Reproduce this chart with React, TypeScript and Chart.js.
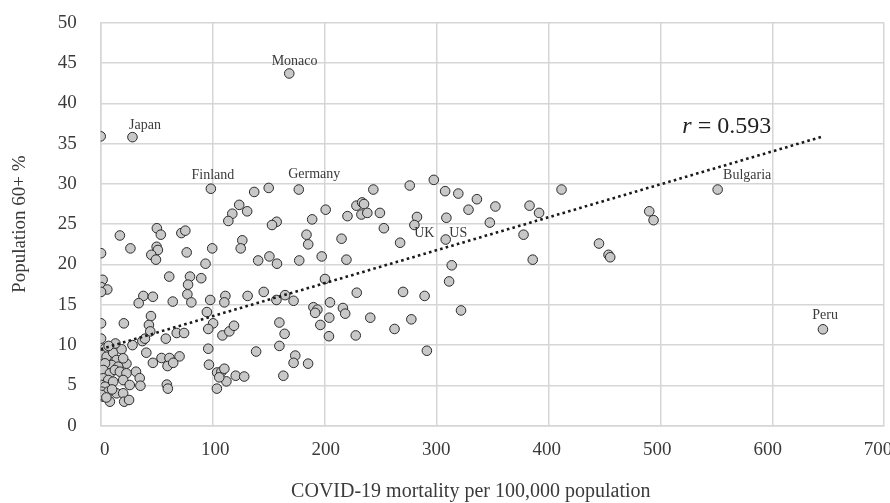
import React, { useEffect, useRef } from "react";
import { Chart, registerables } from "chart.js";
Chart.register(...registerables);

const FONT = '"Liberation Serif", "Times New Roman", serif';

// COVID-19 mortality per 100,000 population (x)
const mortality = [
  0, 28, 166.2, 97.1, 135.3, 148.1, 122.1, 129.1, 116.0, 112.5,
  155.1, 151.0, 16.9, 49.5, 53.0, 71.1, 74.6, 124.8, 123.4, 26.2,
  0.3, 49.3, 50.4, 44.6, 48.7, 75.8, 98.3, 92.4, 138.8, 148.7,
  155.4, 1.7, 0.3, 5.8, 0.3, 60.4, 78.7, 77.0, 88.6, 76.4,
  37.6, 46.0, 109.9, 129.5, 143.7, 33.5, 79.9, 63.5, 96.5, 109.0,
  154.9, 162.5, 0.3, 20.4, 44.3, 42.5, 43.7, 36.7, 39.0, 0.3,
  28.0, 57.4, 67.0, 73.5, 93.6, 99.1, 94.8, 107.3, 113.4, 117.5,
  157.5, 162.1, 94.8, 137.0, 157.5, 40.2, 46.0, 53.6, 60.6, 69.5,
  58.9, 63.9, 95.4, 102.6, 106.4, 109.0, 110.8, 119.0, 126.5, 102.4,
  161.0, 31.1, 34.4, 35.0, 58.3, 59.2, 22.7, 104.5,
  3.8, 0.9, 5.2, 11.0, 18.4, 14.0, 19.8, 9.6, 15.4, 3.8,
  2.3, 8.1, 12.5, 16.9, 22.7, 2.3, 6.7, 0.5, 3.8, 11.0,
  19.8, 25.6, 0.9, 6.7, 14.0, 19.8, 8.1, 2.3, 20.7, 25.0,
  0.9, 10, 5, 13, 7,
  174.6, 240.3, 272.4, 293.6, 303.6, 315.2, 331.6, 324.2, 347.9, 343,
  304.7, 198.3, 186.4, 217.5, 225.4, 230.4, 232.1, 229.8, 235, 246.1,
  249.6, 278.8, 276.5, 181.4, 182.9, 212.3, 263.9, 304.1, 309.4, 307.1,
  175, 194.8, 216.6, 197.7, 225.7, 266.5, 285.5,
  170, 187.5, 191, 189, 202.1, 213.5, 215.5, 201.5, 237.6, 273.8,
  259, 224.8, 201.2, 193.6, 317.6, 287.5, 171.5, 170, 182.8,
  378, 386.4, 406.2, 372.7, 380.8, 439.2, 447.6, 449.1, 483.5, 487.3, 543.8, 636.6,
];

// Population 60+ % (y)
const population60 = [
  35.9, 35.8, 43.7, 29.4, 29.0, 29.5, 27.4, 26.6, 26.3, 25.4,
  25.3, 24.9, 23.6, 24.5, 23.7, 23.9, 24.2, 23.0, 22.0, 22.0,
  21.4, 22.2, 21.8, 21.2, 20.6, 21.5, 22.0, 20.1, 20.5, 21.0,
  20.1, 18.1, 17.2, 16.9, 16.6, 18.5, 18.5, 17.5, 18.3, 16.3,
  16.1, 16.0, 16.1, 16.1, 16.6, 15.2, 15.3, 15.4, 15.6, 15.3,
  15.6, 16.2, 12.7, 12.7, 13.6, 12.5, 11.7, 10.5, 10.8, 10.8,
  10.0, 10.8, 11.5, 11.5, 14.1, 12.7, 12.0, 11.2, 11.7, 12.4,
  12.8, 11.4, 9.55, 9.2, 9.9, 9.06, 7.8, 8.4, 8.4, 8.6,
  7.4, 7.8, 7.57, 6.6, 6.7, 7.07, 5.5, 6.2, 6.1, 4.6,
  6.2, 6.7, 5.9, 4.96, 5.1, 4.6, 7.7, 6.0,
  9.6, 8.77, 8.56, 9.06, 9.48, 8.15, 8.36, 7.53, 7.32, 7.74,
  6.91, 6.5, 6.91, 6.7, 6.5, 5.88, 5.67, 5.05, 4.84, 5.46,
  5.67, 5.05, 4.22, 4.22, 4.02, 4.02, 2.98, 3.6, 2.98, 3.19,
  3.81, 4.5, 3.5, 10.2, 9.9,
  29.3, 29.3, 29.8, 30.5, 29.1, 28.8, 28.1, 26.8, 27.2, 25.2,
  25.8, 26.8, 25.6, 26.0, 27.3, 27.7, 27.5, 26.2, 26.4, 26.4,
  24.5, 25.9, 24.9, 23.7, 22.5, 23.2, 22.7, 23.1, 19.9, 17.9,
  20.5, 21.0, 20.6, 18.2, 16.5, 16.6, 16.1,
  15.5, 14.7, 14.4, 14.0, 15.3, 14.6, 13.9, 13.4, 13.4, 13.2,
  12.0, 11.2, 11.1, 12.5, 14.3, 9.3, 8.7, 7.8, 7.7,
  27.3, 26.4, 29.3, 23.7, 20.6, 22.6, 21.2, 20.9, 26.6, 25.5, 29.3, 11.96,
];

// Trend line
const trendX = [0, 637];
const trendY = [9.5, 35.9];

// Country labels (data-space anchor of each text)
const labelNames = ["Monaco", "Japan", "Finland", "Germany", "UK", "US", "Bulgaria", "Peru"];
const labelX = [170.9, 39.0, 98.9, 188.2, 285.2, 315.2, 569.8, 638.5];
const labelY = [45.2, 37.3, 31.1, 31.2, 23.9, 23.9, 31.1, 13.7];

const rValue = "0.593";
const rLabelX = 512.7;
const rLabelY = 37.1;

const xTickValues = [0, 100, 200, 300, 400, 500, 600, 700];
const yTickValues = [0, 5, 10, 15, 20, 25, 30, 35, 40, 45, 50];

const xTitle = "COVID-19 mortality per 100,000 population";
const yTitle = "Population 60+ %";

const GRID = "#d6d6d6";
const TEXT = "#3a3a3a";

const annotPlugin = {
  id: "annot",
  afterDatasetsDraw(chart: any) {
    const ctx = chart.ctx;
    const xs = chart.scales.x;
    const ys = chart.scales.y;
    ctx.save();
    ctx.fillStyle = TEXT;
    ctx.font = `14px ${FONT}`;
    ctx.textAlign = "center";
    ctx.textBaseline = "middle";
    labelNames.forEach((n, i) => {
      ctx.fillText(n, xs.getPixelForValue(labelX[i]), ys.getPixelForValue(labelY[i]));
    });
    ctx.textAlign = "left";
    const px = xs.getPixelForValue(rLabelX);
    const py = ys.getPixelForValue(rLabelY);
    ctx.fillStyle = "#222";
    ctx.font = `italic 24px ${FONT}`;
    ctx.fillText("r", px, py);
    const w = ctx.measureText("r").width;
    ctx.font = `24px ${FONT}`;
    ctx.fillText(" = " + rValue, px + w, py);
    ctx.fillStyle = TEXT;
    ctx.font = `20px ${FONT}`;
    ctx.textAlign = "center";
    ctx.fillText(xTitle, chart.width * 0.529, 492);
    ctx.restore();
  },
};

const noPad = (s: any) => {
  s.paddingLeft = 0;
  s.paddingRight = 0;
  s.paddingTop = 0;
  s.paddingBottom = 0;
};

export default function App() {
  const ref = useRef<HTMLCanvasElement | null>(null);
  useEffect(() => {
    if (!ref.current) return;
    const points = mortality.map((x, i) => ({ x, y: population60[i] }));
    const trend = trendX.map((x, i) => ({ x, y: trendY[i] }));
    const chart = new Chart(ref.current, {
      type: "scatter",
      data: {
        datasets: [
          {
            type: "line",
            data: trend,
            borderColor: "#1a1a1a",
            borderWidth: 2.6,
            borderDash: [2.6, 3.2],
            pointRadius: 0,
            fill: false,
            order: 0,
          } as any,
          {
            data: points,
            backgroundColor: "#c8c8c8",
            borderColor: "#2a2a2a",
            borderWidth: 1,
            pointRadius: 4.8,
            order: 1,
          },
        ],
      },
      options: {
        animation: false,
        responsive: false,
        devicePixelRatio: 1,
        layout: { padding: { top: 22.7, right: 0, bottom: 0, left: 0 } },
        plugins: { legend: { display: false }, tooltip: { enabled: false } },
        scales: {
          x: {
            type: "linear",
            position: "bottom",
            min: 0,
            max: 690.6,
            grid: { color: GRID, lineWidth: 1.5, drawTicks: false },
            border: { display: true, color: GRID, width: 1.5 },
            ticks: { display: false, stepSize: 100 },
            afterFit: (s: any) => { s.height = 0; noPad(s); },
          },
          x2: {
            type: "linear",
            position: "bottom",
            min: -3.6,
            max: 705.5,
            grid: { display: false, drawTicks: false },
            border: { display: false },
            afterBuildTicks: (s: any) => { s.ticks = xTickValues.map((v) => ({ value: v })); },
            ticks: {
              autoSkip: false,
              maxRotation: 0,
              padding: 13,
              color: TEXT,
              font: { family: FONT, size: 19 },
            },
            afterFit: (s: any) => { s.height = 503 - 425.7; noPad(s); },
          },
          y: {
            type: "linear",
            min: 0,
            max: 50,
            grid: { color: GRID, lineWidth: 1.5, drawTicks: false },
            border: { display: true, color: GRID, width: 1.5 },
            afterBuildTicks: (s: any) => { s.ticks = yTickValues.map((v) => ({ value: v })); },
            ticks: {
              padding: 24,
              color: TEXT,
              font: { family: FONT, size: 19 },
            },
            title: {
              display: true,
              text: yTitle,
              color: TEXT,
              font: { family: FONT, size: 19 },
              padding: { top: 9, bottom: 0 },
            },
            afterFit: (s: any) => { s.width = 100.7; noPad(s); },
          },
        },
      },
      plugins: [annotPlugin],
    });
    return () => chart.destroy();
  }, []);
  return (
    <div style={{ position: "fixed", left: 0, top: 0, width: 890, height: 503, background: "#fff" }}>
      <canvas ref={ref} width={890} height={503} />
    </div>
  );
}
